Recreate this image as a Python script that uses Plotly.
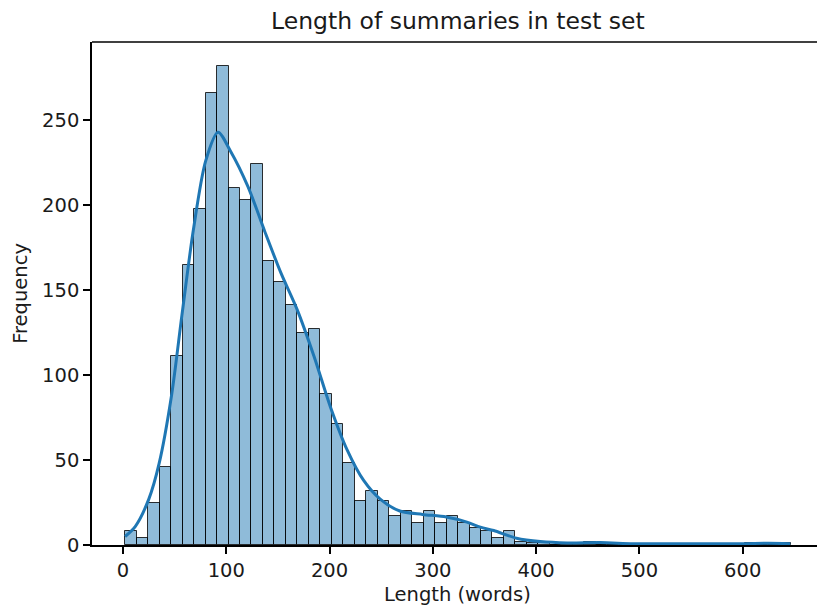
import plotly.graph_objects as go

# ---- data ----
bin_start = 2.2          # left edge of first bin (words)
bin_width = 11.11        # bin width (words)
counts = [8, 4, 25, 46, 111, 165, 198, 266, 282, 210,
          203, 224, 167, 155, 141, 125, 127, 89, 71, 48,
          26, 32, 26, 17, 20, 13, 20, 13, 17, 13,
          10, 8, 4, 8, 2, 1, 1, 0, 1, 1,
          2, 0, 0, 0, 0, 0, 0, 0, 0, 0,
          0, 0, 0, 0, 1, 0, 0, 1]

kde_x = [2, 12, 25, 35, 47, 57, 68, 80, 92, 104, 121, 137, 153, 169, 185, 201,
         217, 233, 249, 268, 290, 313, 333, 346, 359, 381, 404, 430, 462, 494,
         540, 600, 625, 646]
kde_y = [5, 11, 27, 48, 88, 135, 185, 226, 243, 232, 211, 185, 160, 138, 111, 81,
         56, 38, 27, 20, 18, 16.5, 13.5, 10.5, 8.5, 4, 2, 1.2, 1.4, 0.8,
         0.7, 0.8, 1.0, 0.8]

x_ticks = [0, 100, 200, 300, 400, 500, 600]
y_ticks = [0, 50, 100, 150, 200, 250]

title = "Length of summaries in test set"
x_label = "Length (words)"
y_label = "Frequency"

centers = [bin_start + bin_width * (i + 0.5) for i in range(len(counts))]

fig = go.Figure()
fig.add_trace(go.Bar(
    x=centers, y=counts, width=[bin_width] * len(counts),
    marker=dict(color="rgba(31,119,180,0.5)",
                line=dict(color="rgba(0,0,0,0.8)", width=1)),
    showlegend=False, hoverinfo="x+y"))
fig.add_trace(go.Scatter(
    x=kde_x, y=kde_y, mode="lines",
    line=dict(color="#1f77b4", width=3, shape="spline", smoothing=0.8),
    showlegend=False))

font = "DejaVu Sans, sans-serif"
tick_font = dict(family=font, size=19.5, color="#1a1a1a")
fig.update_layout(
    width=817, height=607,
    margin=dict(l=92, r=0, t=42, b=62),
    paper_bgcolor="white", plot_bgcolor="white",
    bargap=0,
    font=dict(family=font, size=19.5, color="#1a1a1a"),
    xaxis=dict(range=[-30, 671.9], tickmode="array", tickvals=x_ticks,
               ticks="outside", ticklen=7, tickwidth=1.5, tickcolor="black",
               showline=True, linecolor="black", linewidth=1.5,
               showgrid=False, zeroline=False, tickfont=tick_font),
    yaxis=dict(range=[0, 296.1], tickmode="array", tickvals=y_ticks,
               ticks="outside", ticklen=7, tickwidth=1.5, tickcolor="black",
               showline=True, linecolor="black", linewidth=1.5,
               showgrid=False, zeroline=False, tickfont=tick_font),
    shapes=[dict(type="line", xref="paper", yref="paper", x0=0, x1=1, y0=1, y1=1,
                 line=dict(color="black", width=1.5))],
    annotations=[
        dict(text=title, xref="paper", yref="paper", x=0.5048, y=1.0411,
             xanchor="center", yanchor="middle", showarrow=False,
             font=dict(family=font, size=23.5, color="#1a1a1a")),
        dict(text=x_label, xref="paper", yref="paper", x=0.5048, y=-0.0983,
             xanchor="center", yanchor="middle", showarrow=False,
             font=dict(family=font, size=19.5, color="#1a1a1a")),
        dict(text=y_label, xref="paper", yref="paper", x=-0.0989, y=0.5,
             xanchor="center", yanchor="middle", showarrow=False, textangle=-90,
             font=dict(family=font, size=19.5, color="#1a1a1a")),
    ],
)

fig.write_html("out.html")
